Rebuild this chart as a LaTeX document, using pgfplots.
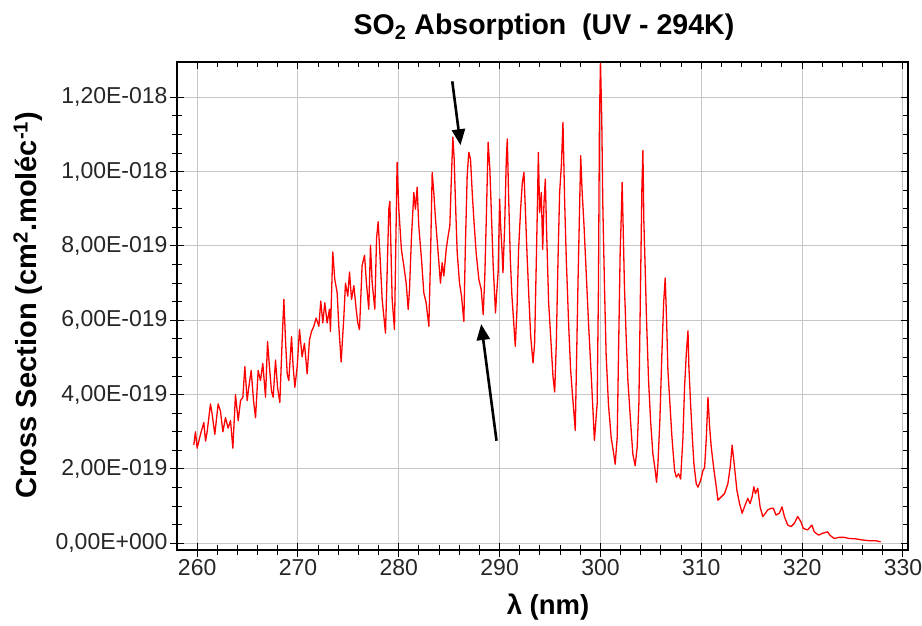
\documentclass[border=0pt]{standalone}
\usepackage{fontspec}
\setmainfont{Liberation Sans}
\usepackage{pgfplots}
\pgfplotsset{compat=1.18}
\usetikzlibrary{arrows.meta}
\pgfplotstableread{
x y
259.67 2.65
259.83 3.0
260.00 2.56
260.33 2.93
260.66 3.25
260.83 2.75
260.99 3.0
261.32 3.75
261.49 3.47
261.75 2.93
262.08 3.75
262.31 3.56
262.55 3.0
262.81 3.38
263.07 3.1
263.31 3.3
263.54 2.56
263.80 4.0
264.07 3.3
264.30 3.84
264.53 3.93
264.73 4.75
264.96 3.84
265.12 4.2
265.36 4.65
265.59 3.84
265.79 3.38
266.05 4.65
266.28 4.38
266.51 4.84
266.78 3.93
266.98 5.43
267.17 4.75
267.37 4.1
267.54 3.93
267.77 4.93
267.97 4.2
268.20 3.79
268.43 5.47
268.60 6.56
268.76 5.47
268.93 4.56
269.09 4.38
269.36 5.56
269.52 4.75
269.69 4.2
269.92 4.75
270.15 5.75
270.41 5.02
270.64 5.38
270.91 4.56
271.14 5.47
271.34 5.7
271.57 5.84
271.80 6.06
272.07 5.84
272.26 6.52
272.46 5.93
272.66 6.47
272.89 5.93
273.12 6.3
273.22 5.7
273.45 7.84
273.65 7.1
273.88 6.75
274.05 5.84
274.28 4.88
274.55 6.1
274.71 7.0
274.94 6.65
275.11 7.3
275.31 6.56
275.54 6.93
275.77 6.3
275.93 5.93
276.10 5.75
276.36 7.47
276.60 7.75
276.79 7.0
277.02 6.3
277.19 8.02
277.36 7.0
277.62 6.3
277.79 8.2
277.95 8.65
278.08 8.02
278.35 6.56
278.68 5.65
279.01 9.0
279.11 9.2
279.34 6.56
279.57 5.75
279.83 10.25
280.00 8.99
280.26 7.9
280.50 7.46
280.73 7.0
280.93 6.29
281.06 6.83
281.26 8.27
281.49 9.44
281.65 8.99
281.82 9.58
281.98 8.54
282.25 7.64
282.48 6.74
282.71 6.47
282.98 5.84
283.14 7.64
283.31 9.98
283.47 9.44
283.64 8.72
283.90 7.82
284.13 7.0
284.30 7.55
284.46 7.19
284.70 7.91
284.89 8.27
285.06 8.54
285.22 9.89
285.36 10.93
285.49 10.34
285.62 9.17
285.79 7.82
286.02 7.0
286.22 6.65
286.45 5.97
286.61 8.09
286.78 9.89
286.94 10.52
287.11 10.34
287.28 9.44
287.44 8.72
287.67 7.82
287.94 7.1
288.17 6.83
288.37 6.15
288.53 7.19
288.70 8.99
288.86 10.79
289.03 10.07
289.19 8.81
289.36 7.46
289.59 6.2
289.70 6.7
289.85 7.3
290.00 9.26
290.10 8.54
290.23 7.91
290.33 7.28
290.50 8.54
290.66 10.34
290.76 10.88
290.89 9.35
291.06 7.64
291.22 6.65
291.42 5.84
291.55 5.3
291.72 6.29
291.88 7.91
292.08 8.99
292.25 9.71
292.41 9.98
292.55 8.99
292.71 7.82
292.88 6.74
293.08 5.57
293.31 4.85
293.47 5.39
293.64 7.64
293.74 8.99
293.84 10.52
293.97 8.9
294.13 9.44
294.27 7.91
294.40 9.17
294.53 9.8
294.66 8.36
294.86 6.47
295.06 5.57
295.29 4.49
295.46 4.07
295.62 5.39
295.79 7.64
295.95 9.44
296.12 10.16
296.28 11.33
296.45 9.17
296.61 7.64
296.85 5.84
297.04 4.67
297.21 4.04
297.50 3.04
297.77 7.0
298.04 10.43
298.17 9.53
298.37 8.54
298.60 7.19
298.83 5.84
299.09 4.49
299.40 2.77
299.67 3.75
299.80 6.89
299.90 11.37
300.00 13.0
300.13 11.37
300.23 9.13
300.40 6.89
300.56 5.09
300.79 3.75
301.06 2.85
301.32 2.4
301.46 2.13
301.66 2.85
301.79 5.09
301.95 7.78
302.05 8.68
302.15 9.71
302.25 8.5
302.38 6.89
302.55 5.54
302.72 4.38
302.98 3.3
303.21 2.4
303.44 2.09
303.64 2.58
303.81 3.75
303.97 6.89
304.11 9.58
304.21 10.57
304.30 8.68
304.44 7.34
304.57 5.99
304.77 4.38
304.97 3.3
305.20 2.4
305.43 1.96
305.56 1.64
305.70 2.13
305.89 3.3
306.09 5.09
306.26 6.44
306.42 7.14
306.56 5.99
306.69 4.65
306.89 3.75
307.09 2.85
307.35 1.96
307.52 1.78
307.75 1.87
307.95 1.73
308.18 2.85
308.34 4.2
308.51 5.09
308.68 5.72
308.77 4.74
308.94 3.75
309.11 2.85
309.27 2.13
309.50 1.6
309.67 1.51
309.93 1.69
310.17 1.96
310.33 2.04
310.50 2.85
310.66 3.93
310.83 3.12
310.99 2.58
311.26 1.96
311.49 1.51
311.65 1.16
311.98 1.25
312.31 1.34
312.64 1.61
312.87 2.06
313.06 2.64
313.29 2.06
313.53 1.43
313.79 1.07
314.05 0.81
314.28 0.98
314.61 1.21
314.84 1.07
315.04 1.25
315.21 1.52
315.37 1.34
315.60 1.48
315.83 0.98
316.10 0.72
316.36 0.81
316.59 0.9
316.92 0.94
317.15 0.94
317.41 0.76
317.74 0.81
318.01 0.98
318.24 0.72
318.57 0.49
318.90 0.45
319.23 0.54
319.56 0.72
319.88 0.58
320.12 0.4
320.54 0.36
320.97 0.49
321.20 0.31
321.63 0.22
322.03 0.27
322.52 0.31
322.75 0.22
323.18 0.13
323.67 0.16
324.17 0.16
324.66 0.13
325.32 0.12
325.98 0.09
326.64 0.07
327.30 0.07
327.79 0.04
}\spectrum
\pgfplotsset{
  commonax/.style={
    at={(0,0)}, anchor=south west,
    width=731pt, height=488pt, scale only axis,
    xmin=258, xmax=330.5, ymin=-0.18, ymax=12.95,
    xtick={260,270,...,330}, minor x tick num=4,
    ytick={0,2,...,12}, minor y tick num=3,
    major tick length=7pt, minor tick length=5pt,
    tick style={black, line width=1pt},
    axis line style={black, line width=1.2pt},
  }
}
\begin{document}
\begin{tikzpicture}[x=1pt,y=1pt]
\path[use as bounding box] (-177,-76) rectangle (745,550);
\begin{axis}[commonax,
  tick align=inside, tick pos=both,
  grid=major, major grid style={gray!45, line width=1pt},
  xticklabels={260,270,280,290,300,310,320,330},
  yticklabels={{0,00E+000},{2,00E-019},{4,00E-019},{6,00E-019},{8,00E-019},{1,00E-018},{1,20E-018}},
  ticklabel style={font=\fontsize{23}{25}\selectfont, text=black!85},
  xticklabel style={yshift=-6pt},
  yticklabel style={xshift=-6pt},
]
\addplot[red, line width=1.3pt, line join=round] table[x=x,y=y] {\spectrum};
\draw[black, line width=2.6pt, -{Triangle[length=16pt,width=13pt]}] (axis cs:285.30,12.43) -- (axis cs:286.12,10.71);
\draw[black, line width=2.6pt, -{Triangle[length=16pt,width=13pt]}] (axis cs:289.69,2.76) -- (axis cs:288.17,5.90);
\end{axis}
\begin{axis}[commonax,
  tick align=outside, tick pos=left,
  xticklabels={}, yticklabels={},
]
\end{axis}
\node[font=\fontsize{28.5}{31}\selectfont\bfseries] at (367,523) {SO\textsubscript{2} Absorption\ \ (UV - 294K)};
\node[font=\fontsize{27.5}{30}\selectfont\bfseries] at (371,-57) {λ (nm)};
\node[font=\fontsize{29}{32}\selectfont\bfseries, rotate=90] at (-149,245) {Cross Section (cm\textsuperscript{2}.moléc\textsuperscript{-1})};
\end{tikzpicture}
\end{document}
